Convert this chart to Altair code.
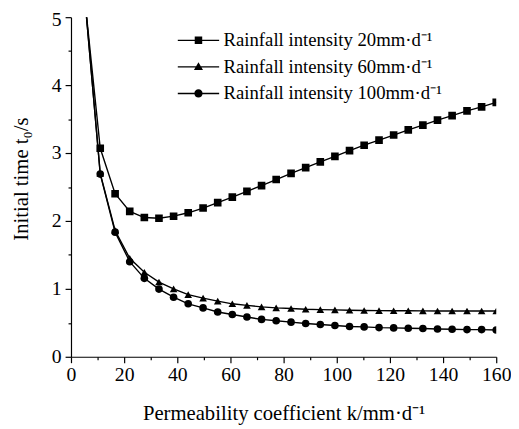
import altair as alt
import pandas as pd

# Permeability coefficient k (mm/d) at each sample
k_values = [5.5, 11.0, 16.6, 22.1, 27.6, 33.1, 38.6, 44.1, 49.7, 55.2,
            60.7, 66.2, 71.7, 77.2, 82.8, 88.3, 93.8, 99.3, 104.8, 110.3,
            115.9, 121.4, 126.9, 132.4, 137.9, 143.4, 149.0, 154.5, 160.0]

# Initial time t0 (s) for each rainfall intensity
t_20 = [5.15, 3.07, 2.40, 2.14, 2.05, 2.04, 2.07, 2.12, 2.19, 2.27,
        2.35, 2.435, 2.52, 2.61, 2.70, 2.785, 2.87, 2.95, 3.035, 3.115,
        3.19, 3.265, 3.34, 3.41, 3.485, 3.55, 3.62, 3.68, 3.745]
t_60 = [5.15, 2.70, 1.86, 1.45, 1.245, 1.10, 1.00, 0.915, 0.863, 0.82,
        0.78, 0.757, 0.735, 0.72, 0.71, 0.70, 0.695, 0.69, 0.685, 0.682,
        0.68, 0.678, 0.677, 0.676, 0.675, 0.675, 0.674, 0.674, 0.674]
t_100 = [5.15, 2.69, 1.835, 1.40, 1.155, 0.997, 0.877, 0.78, 0.72, 0.66,
         0.623, 0.585, 0.55, 0.53, 0.51, 0.49, 0.475, 0.46, 0.445, 0.44,
         0.43, 0.425, 0.42, 0.417, 0.41, 0.405, 0.40, 0.40, 0.395]

intensities = ["20", "60", "100"]
x_ticks = [0, 10, 20, 30, 40, 50, 60, 70, 80, 90, 100, 110, 120, 130, 140, 150, 160]
y_ticks = [0, 0.5, 1, 1.5, 2, 2.5, 3, 3.5, 4, 4.5, 5]

rows = []
for name, vals in zip(intensities, [t_20, t_60, t_100]):
    for k, t in zip(k_values, vals):
        rows.append({"k": k, "t": t, "intensity": name})
df = pd.DataFrame(rows)

FONT = "Liberation Serif, Times New Roman, serif"

x_enc = alt.X("k:Q", scale=alt.Scale(domain=[0, 160], nice=False),
              axis=alt.Axis(values=x_ticks, title="Permeability coefficient k/mm·d⁻¹",
                            labelExpr="datum.value % 20 === 0 ? format(datum.value, 'd') : ''",
                            tickSize={"condition": {"test": "datum.value % 20 === 0", "value": 6}, "value": 3},
                            labelFlush=False, labelPadding=2, titlePadding=19, grid=False))
y_enc = alt.Y("t:Q", scale=alt.Scale(domain=[0, 5], nice=False),
              axis=alt.Axis(values=y_ticks, title="Initial time  t₀/s",
                            labelExpr="datum.value % 1 === 0 ? format(datum.value, 'd') : ''",
                            tickSize={"condition": {"test": "datum.value % 1 === 0", "value": 6}, "value": 3},
                            labelOffset={"condition": {"test": "datum.value === 5", "value": 2}, "value": 0},
                            labelFlush=False, labelPadding=4, titlePadding=20, titleY=164,
                            grid=False))

# legend glyphs: a thin bar (the line) with the series marker on it, all filled
legend_paths = ["M-1,-0.17H9.5V0.17H-1ZM3.3,-0.95H5.2V0.95H3.3Z",
                "M-1,-0.17H9.5V0.17H-1ZM4.25,-1.15L5.4,0.8L3.1,0.8Z",
                "M-1,-0.17H9.5V0.17H-1ZM3.2,0A1.05,1.05 0 1,1 5.3,0A1.05,1.05 0 1,1 3.2,0Z"]

lines = alt.Chart(df).mark_line(color="black", strokeWidth=1.4, clip=True).encode(
    x=x_enc, y=y_enc, detail="intensity:N", order="k:Q")

points = alt.Chart(df).mark_point(filled=True, color="black", opacity=1, size=60, clip=True).encode(
    x=x_enc, y=y_enc,
    shape=alt.Shape("intensity:N",
                    scale=alt.Scale(domain=intensities, range=["square", "triangle-up", "circle"]),
                    legend=None))

legend_layer = alt.Chart(df).mark_point(filled=True, fill="black", opacity=0, size=64, clip=True).encode(
    x=x_enc, y=y_enc,
    shape=alt.Shape("intensity:N",
                    scale=alt.Scale(domain=intensities, range=legend_paths),
                    legend=alt.Legend(title=None, orient="none", legendX=103, legendY=14,
                                      padding=0, symbolSize=64, symbolStrokeWidth=0,
                                      symbolFillColor="black",
                                      symbolOpacity=1, labelOffset=33, rowPadding=7,
                                      labelLimit=0,
                                      labelFont=FONT, labelFontSize=19, labelColor="black",
                                      labelExpr="'Rainfall intensity ' + datum.label + 'mm·d⁻¹'")))

chart = alt.layer(lines, points, legend_layer).resolve_scale(shape="independent").properties(
    width=432, height=345,
    autosize=alt.AutoSizeParams(type="none"),
    padding={"left": 64, "top": 6, "right": 15, "bottom": 68},
).configure_view(stroke=None).configure_axis(
    labelFont=FONT, labelFontSize=20, labelColor="black",
    titleFont=FONT, titleFontSize=21, titleFontWeight="normal", titleColor="black",
    domainColor="black", domainWidth=1.2, tickColor="black", tickWidth=1.2,
)

chart.save("out.html", embed_options={"renderer": "svg", "actions": False})
